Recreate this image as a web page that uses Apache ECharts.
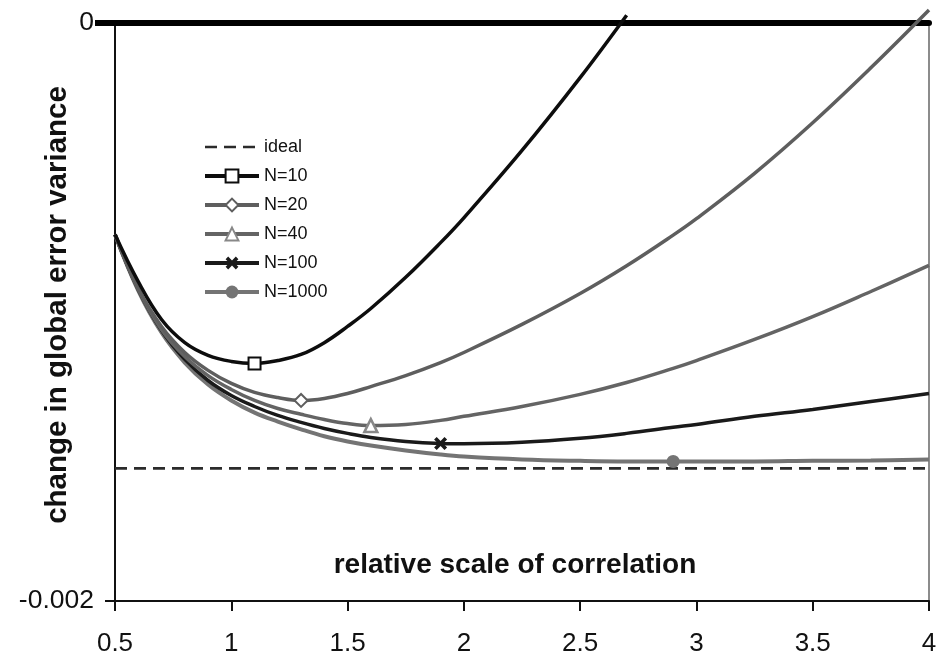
<!DOCTYPE html>
<html>
<head>
<meta charset="utf-8">
<script src="https://cdn.jsdelivr.net/npm/echarts@6/dist/echarts.min.js"></script>
<style>
  html, body { margin: 0; padding: 0; background: #fff; }
  #chart { width: 942px; height: 658px; }
</style>
</head>
<body>
<div id="chart"></div>
<script>
// relative scale of correlation (x positions of the sampled curves)
const scales = [0.5, 0.6, 0.7, 0.8, 0.9, 1.0, 1.1, 1.2, 1.3, 1.4, 1.5, 1.6, 1.75, 1.9, 2.0, 2.25, 2.5, 2.7, 2.9, 3.0, 3.25, 3.5, 3.75, 4.0];

// change in global error variance for each ensemble size
const n10 = [-0.000732, -0.000895, -0.001026, -0.001106, -0.001150, -0.001171, -0.001178, -0.001168, -0.001147, -0.001106, -0.001050, -0.000988, -0.000880, -0.000760, -0.000674, -0.000441, -0.000189, 0.000027, null, null, null, null, null, null];
const n20 = [-0.000732, -0.000919, -0.001050, -0.001140, -0.001202, -0.001247, -0.001278, -0.001296, -0.001306, -0.001299, -0.001282, -0.001258, -0.001220, -0.001175, -0.001140, -0.001043, -0.000936, -0.000840, -0.000734, -0.000677, -0.000520, -0.000345, -0.000155, 0.000045];
const n40 = [-0.000732, -0.000922, -0.001061, -0.001154, -0.001220, -0.001268, -0.001306, -0.001334, -0.001354, -0.001372, -0.001386, -0.001393, -0.001389, -0.001375, -0.001361, -0.001327, -0.001285, -0.001244, -0.001195, -0.001168, -0.001095, -0.001016, -0.000929, -0.000839];
const n100 = [-0.000732, -0.000922, -0.001064, -0.001164, -0.001237, -0.001289, -0.001327, -0.001358, -0.001382, -0.001403, -0.001420, -0.001434, -0.001448, -0.001455, -0.001456, -0.001451, -0.001437, -0.001420, -0.001399, -0.001389, -0.001361, -0.001337, -0.001310, -0.001282];
const n1000 = [-0.000732, -0.000926, -0.001071, -0.001175, -0.001251, -0.001306, -0.001348, -0.001379, -0.001406, -0.001430, -0.001448, -0.001462, -0.001479, -0.001493, -0.001500, -0.001510, -0.001515, -0.001517, -0.001517, -0.001517, -0.001517, -0.001515, -0.001514, -0.001510];
const idealLevel = -0.001541;

// index of the optimum marked on each curve
const optimumIndex = { 'N=10': 6, 'N=20': 8, 'N=40': 11, 'N=100': 13, 'N=1000': 18 };

const xTicks = { min: 0.5, max: 4, step: 0.5 };
const yTicks = { min: -0.002, max: 0, step: 0.002 };

const FONT = "'Liberation Sans', Arial, Helvetica, sans-serif";

function curve(name, values) {
  const mark = optimumIndex[name];
  const out = [];
  values.forEach((v, i) => {
    if (v === null) return;
    const item = { value: [scales[i], v] };
    if (i !== mark) item.symbol = 'none';
    out.push(item);
  });
  return out;
}

const crossPath = 'path://M0,2 L2,0 L5,3 L8,0 L10,2 L7,5 L10,8 L8,10 L5,7 L2,10 L0,8 L3,5 Z';

const chart = echarts.init(document.getElementById('chart'), null, { renderer: 'canvas' });

chart.setOption({
  animation: false,
  backgroundColor: '#fff',
  textStyle: { fontFamily: FONT },
  grid: {
    left: 115, right: 13, top: 23, bottom: 57,
    outerBoundsMode: 'none', containLabel: false,
    show: true, borderColor: '#8c8c8c', borderWidth: 2, backgroundColor: 'transparent'
  },
  legend: {
    orient: 'vertical',
    left: 203, top: 138,
    padding: 0,
    itemWidth: 54, itemHeight: 16, itemGap: 11,
    lineStyle: { width: 4 },
    textStyle: { fontFamily: FONT, fontSize: 18, color: '#111', lineHeight: 18 },
    data: [
      { name: 'ideal', itemStyle: { color: 'transparent', borderWidth: 0 }, lineStyle: { width: 2.5 } },
      'N=10', 'N=20', 'N=40', 'N=100', 'N=1000'
    ]
  },
  xAxis: [{
    type: 'value',
    min: xTicks.min, max: xTicks.max, interval: xTicks.step,
    name: 'relative scale of correlation',
    nameLocation: 'middle', nameGap: -50, nameMoveOverlap: false,
    nameTextStyle: { fontFamily: FONT, fontSize: 28, fontWeight: 'bold', color: '#111', padding: [0, 14, 0, 0] },
    axisLine: { show: true, onZero: false, lineStyle: { color: '#111', width: 2 } },
    axisTick: { show: true, inside: false, length: 10, lineStyle: { color: '#111', width: 2 } },
    axisLabel: { margin: 30, fontFamily: FONT, fontSize: 26, color: '#111' },
    splitLine: { show: false }
  }, {
    type: 'value', position: 'top',
    min: xTicks.min, max: xTicks.max,
    axisLine: { show: true, onZero: false, lineStyle: { color: '#000', width: 6 } },
    axisTick: { show: false }, axisLabel: { show: false }, splitLine: { show: false }
  }],
  yAxis: [{
    type: 'value',
    min: yTicks.min, max: yTicks.max, interval: yTicks.step,
    name: 'change in global error variance',
    nameLocation: 'middle', nameGap: 42, nameMoveOverlap: false,
    nameTextStyle: { fontFamily: FONT, fontSize: 29.5, fontWeight: 'bold', color: '#111', padding: [0, 0, 0, 14] },
    axisLine: { show: true, onZero: false, lineStyle: { color: '#111', width: 2 } },
    axisTick: { show: true, length: 10, lineStyle: { color: '#111', width: 2 } },
    axisLabel: { margin: 21, fontFamily: FONT, fontSize: 26.5, color: '#111' },
    splitLine: { show: false }
  }, {
    // heavy stub marking the zero level
    type: 'value', position: 'left',
    min: yTicks.min, max: yTicks.max,
    axisLine: { show: false },
    axisTick: { show: true, customValues: [0], length: 20, lineStyle: { color: '#000', width: 6 } },
    axisLabel: { show: false }, splitLine: { show: false }
  }],
  series: [
    {
      name: 'ideal', type: 'line', symbol: 'none',
      data: [[xTicks.min, idealLevel], [xTicks.max, idealLevel]],
      lineStyle: { color: '#2b2b2b', width: 2.8, type: [12, 7] },
      itemStyle: { color: '#2b2b2b' },
      z: 3
    },
    {
      name: 'N=1000', type: 'line', smooth: 0.4,
      symbol: 'circle', symbolSize: 13,
      data: curve('N=1000', n1000),
      lineStyle: { color: '#747474', width: 4 },
      itemStyle: { color: '#747474' },
      z: 4
    },
    {
      name: 'N=100', type: 'line', smooth: 0.4,
      symbol: crossPath, symbolSize: 13,
      data: curve('N=100', n100),
      lineStyle: { color: '#1a1a1a', width: 3.5 },
      itemStyle: { color: '#1a1a1a' },
      z: 5
    },
    {
      name: 'N=40', type: 'line', smooth: 0.4,
      symbol: 'triangle', symbolSize: 13,
      data: curve('N=40', n40),
      lineStyle: { color: '#646464', width: 3.5 },
      itemStyle: { color: '#ffffff', borderColor: '#888888', borderWidth: 2.5 },
      z: 6
    },
    {
      name: 'N=20', type: 'line', smooth: 0.4, clip: false,
      symbol: 'diamond', symbolSize: 13,
      data: curve('N=20', n20),
      lineStyle: { color: '#5e5e5e', width: 3.5 },
      itemStyle: { color: '#ffffff', borderColor: '#5e5e5e', borderWidth: 2 },
      z: 7
    },
    {
      name: 'N=10', type: 'line', smooth: 0.4, clip: false,
      symbol: 'rect', symbolSize: 12,
      data: curve('N=10', n10),
      lineStyle: { color: '#0d0d0d', width: 3.5 },
      itemStyle: { color: '#ffffff', borderColor: '#0d0d0d', borderWidth: 2 },
      z: 8
    }
  ]
});
</script>
</body>
</html>
